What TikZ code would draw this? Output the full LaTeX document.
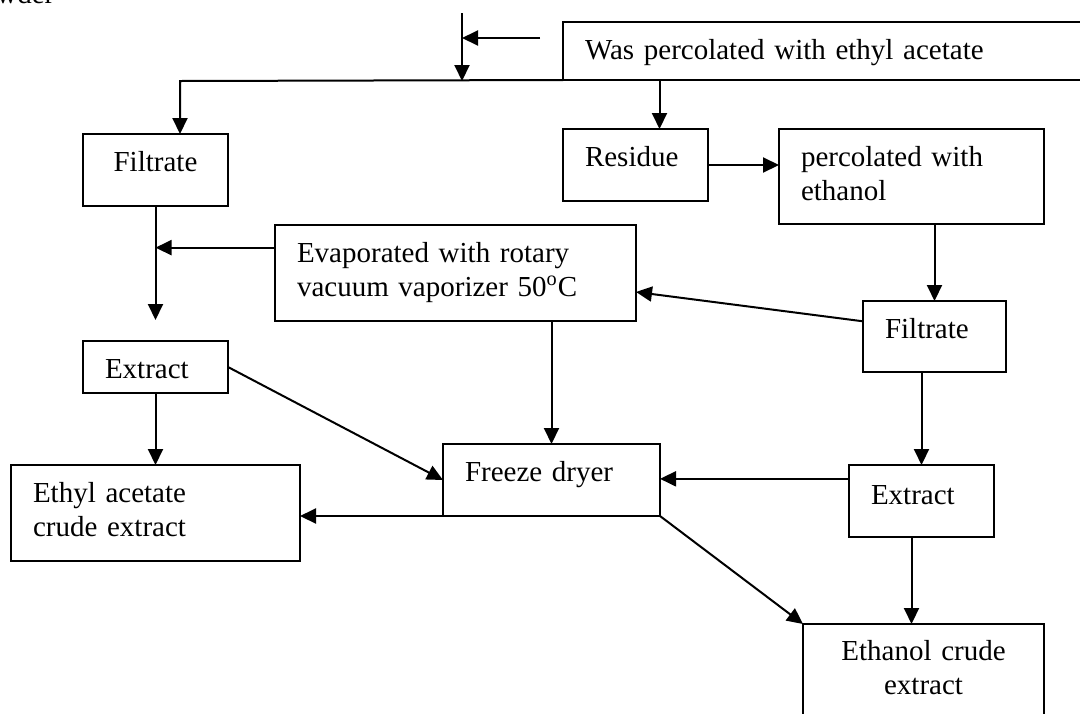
\documentclass[tikz,border=0pt]{standalone}
\usepackage{fontspec}
\setmainfont{Liberation Serif}
\usepackage{tikz}
\usetikzlibrary{arrows.meta}

\begin{document}
\begin{tikzpicture}[x=0.5pt, y=-0.5pt,
        box/.style={draw, line width=1pt, anchor=north west, outer sep=0pt,
            inner xsep=11pt, inner ysep=0pt, text height=18.5pt, align=left,
            font=\fontsize{14.5pt}{17pt}\selectfont},
        arr/.style={line width=1pt, -{Triangle[length=8pt, width=7.5pt]}}]
        % Fix the frame of the page
        \useasboundingbox (0,0) rectangle (1080,713);
        \clip (0,0) rectangle (1080,713);

        % Text cut off at the top edge
        \node[anchor=base west, inner sep=0pt, font=\fontsize{14.5pt}{17pt}\selectfont] (pwd) at (-4,3) {wder};

        % Boxes, placed by their top left corner
        \node[box, text width=246.5pt, text depth=10.5pt] (was) at (563,22) {Was percolated with ethyl acetate};
        \node[box, text width=50.5pt, text depth=17.5pt, align=center] (fil1) at (83,134) {Filtrate};
        \node[box, text width=50.5pt, text depth=17.5pt] (res) at (563,129) {Residue};
        \node[box, text width=110.5pt, text depth=29pt] (perc) at (779,129) {percolated with\\ethanol};
        \node[box, text width=158.5pt, text depth=29.5pt] (evap) at (275,225) {Evaporated with rotary\\vacuum vaporizer 50\textsuperscript{o}C};
        \node[box, text width=49.5pt, text depth=17pt] (filr) at (863,301) {Filtrate};
        \node[box, text width=50.5pt, text depth=7.5pt] (ext1) at (83,341) {Extract};
        \node[box, text width=122.5pt, text depth=29.5pt] (eth1) at (11,465) {Ethyl acetate\\crude extract};
        \node[box, text width=86.5pt, text depth=17.5pt] (frz) at (443,444) {Freeze dryer};
        \node[box, text width=50.5pt, text height=19.5pt, text depth=16.5pt] (ext2) at (849,465) {Extract};
        \node[box, text width=98.5pt, text height=18pt, text depth=40pt, align=center] (ethn) at (803,624) {Ethanol crude\\extract};

        % Feed lines at the top
        \coordinate (feed) at (462,13);
        \coordinate (join) at (462,81);
        \coordinate (side) at (540,38);
        \coordinate (split) at (180,81);
        \draw[arr] (feed) -- (join);
        \draw[arr] (side) -- (side -| feed);
        \draw[arr] (was.south west) -- (split) -- (split |- fil1.north);
        \draw[arr] ([xshift=12pt]res.north |- was.south) -- ([xshift=12pt]res.north);

        % Ethanol branch
        \draw[arr] (res.east) -- (res.east -| perc.west);
        \draw[arr] (perc.south -| filr.north) -- (filr.north);
        \draw[arr] (filr.168) -- (evap.-6);
        \draw[arr] (filr.south -| ext2.north) -- (ext2.north);
        \draw[arr] (ext2.163) -- (ext2.163 -| frz.east);
        \draw[arr] ([xshift=-5pt]ext2.south) -- ([xshift=-5pt]ext2.south |- ethn.north);
        \draw[arr] (frz.south east) -- (ethn.north west);

        % Ethyl acetate branch
        \draw[arr] (evap.172) -- (evap.172 -| fil1.south);
        \draw[arr] (fil1.south) -- ([yshift=10.5pt]ext1.north);
        \draw[arr] (ext1.south) -- (ext1.south |- eth1.north);
        \draw[arr] (ext1.east) -- (frz.west);
        \draw[arr] (evap.south -| frz.north) -- (frz.north);
        \draw[arr] (frz.south west) -- (frz.south west -| eth1.east);
    \end{tikzpicture}
\end{document}
